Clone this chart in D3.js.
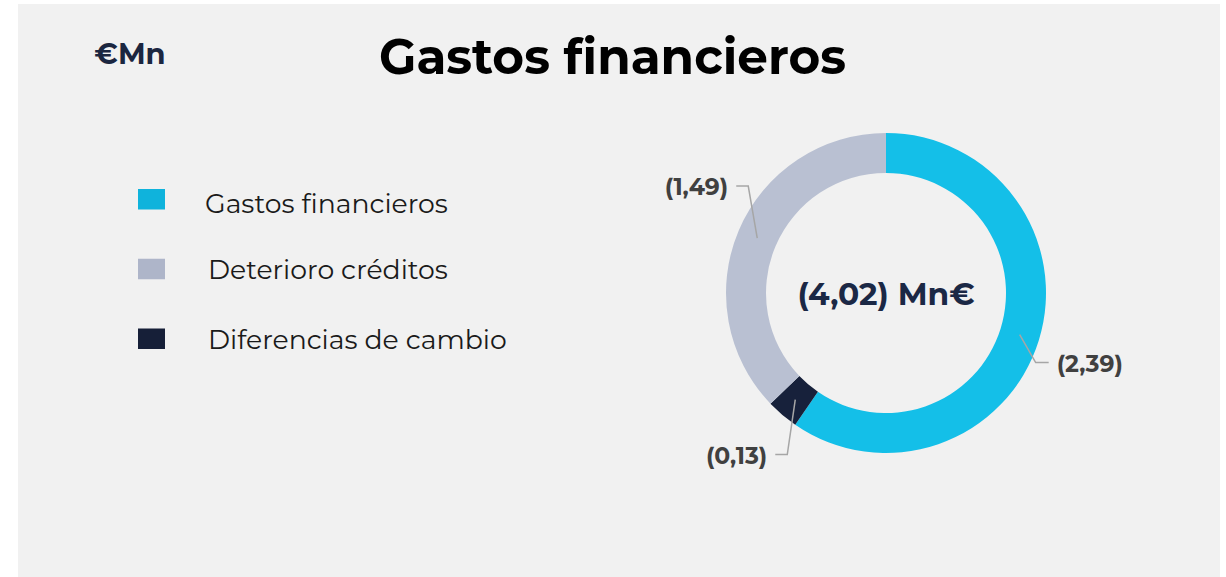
<!DOCTYPE html>
<html><head><meta charset="utf-8">
<script src="https://cdn.jsdelivr.net/npm/d3@7"></script>
<style>
html,body{margin:0;padding:0;background:#fff;}
svg{display:block;}
</style></head>
<body>
<svg id="chart" width="1226" height="577"></svg>
<script>
// Data
const categories = ["Gastos financieros", "Diferencias de cambio", "Deterioro créditos"];
const values = [2.39, 0.13, 1.49];
const valueLabels = ["(2,39)", "(0,13)", "(1,49)"];
const legendOrder = ["Gastos financieros", "Deterioro créditos", "Diferencias de cambio"];
const totalLabel = "(4,02) Mn€";
const title = "Gastos financieros";
const unitLabel = "€Mn";

const colors = {"Gastos financieros":"#14BFE8","Diferencias de cambio":"#17213B","Deterioro créditos":"#B9C0D2"};
const legendColors = {"Gastos financieros":"#0FB3DC","Diferencias de cambio":"#161F38","Deterioro créditos":"#AEB5C9"};
// leader elbow offsets [dx,dy,horizontal length]
const leader = {"Gastos financieros":[16,28,13],"Diferencias de cambio":[-8,55,-12],"Deterioro créditos":[-9,-52,-12]};

const svg = d3.select("#chart");
const font = "Montserrat, 'DejaVu Sans', sans-serif";

svg.append("rect").attr("x",18).attr("y",4).attr("width",1202).attr("height",580).attr("fill","#F1F1F1");

svg.append("text").attr("x",612.5).attr("y",74).attr("text-anchor","middle")
  .attr("font-family",font).attr("font-weight","bold").attr("font-size",48.5).attr("fill","#000")
  .text(title);
svg.append("text").attr("x",130).attr("y",64).attr("text-anchor","middle")
  .attr("font-family",font).attr("font-weight","bold").attr("font-size",29).attr("fill","#1B2640")
  .text(unitLabel);

// Legend
const ly = d3.scalePoint().domain(legendOrder).range([199,338.5]);
const lg = svg.append("g").selectAll("g").data(legendOrder).join("g")
  .attr("transform",d=>`translate(0,${ly(d)})`);
lg.append("rect").attr("x",138).attr("y",-10).attr("width",27).attr("height",20.5).attr("fill",d=>legendColors[d]);
lg.append("text").attr("x",(d,i)=>i===0?205:208).attr("y",(d,i)=>i===0?14:10.5)
  .attr("font-family",font).attr("font-size",26.7).attr("fill","#1a1a1a").text(d=>d);

// Donut
const cx=886, cy=293, rOuter=160, rInner=120;
const pie = d3.pie().sort(null).value(d=>d.v);
const data = categories.map((c,i)=>({c, v:values[i], label:valueLabels[i]}));
const arcs = pie(data);
const arc = d3.arc().innerRadius(rInner).outerRadius(rOuter);
const mid = d3.arc().innerRadius(140).outerRadius(140);
const g = svg.append("g").attr("transform",`translate(${cx},${cy})`);
g.selectAll("path.slice").data(arcs).join("path").attr("class","slice")
  .attr("d",arc).attr("fill",d=>colors[d.data.c]);

arcs.forEach(a=>{
  const [x0,y0] = mid.centroid(a);
  const [dx,dy,h] = leader[a.data.c];
  const x1=x0+dx, y1=y0+dy, x2=x1+h;
  g.append("polyline").attr("points",`${x0},${y0} ${x1},${y1} ${x2},${y1}`)
    .attr("fill","none").attr("stroke","#A6A6A6").attr("stroke-width",1.5);
  g.append("text").attr("x",x2+(h>0?8:-8)).attr("y",y1).attr("dy","0.4em")
    .attr("text-anchor",h>0?"start":"end")
    .attr("font-family",font).attr("font-weight","bold").attr("font-size",23.5).attr("fill","#404040")
    .text(a.data.label);
});

g.append("text").attr("x",0).attr("y",12).attr("text-anchor","middle")
  .attr("font-family",font).attr("font-weight","bold").attr("font-size",31.3).attr("fill","#1B2845")
  .text(totalLabel);
</script>
</body></html>
